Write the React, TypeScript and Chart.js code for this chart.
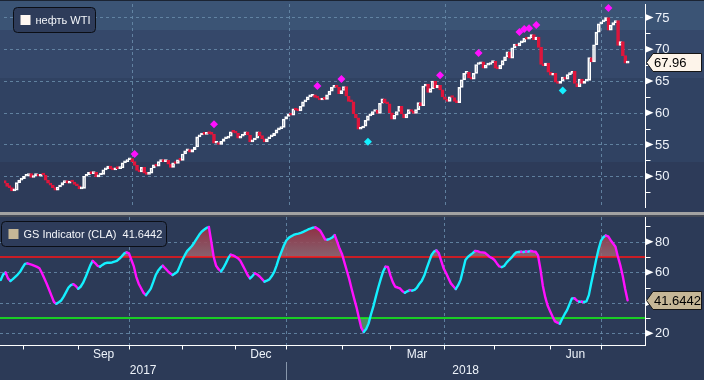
import React, { useEffect, useRef } from 'react';
import { Chart, registerables } from 'chart.js';

Chart.register(...registerables);

// ---------------- data ----------------
const firstOpen = 49.3;
const closes = [
  48.9, 48.4, 48.2, 47.7, 47.8, 49.0, 49.4, 49.6, 50.0, 50.1,
  50.4, 49.8, 50.1, 50.2, 50.0, 50.3, 50.2, 49.4, 48.9, 48.6,
  48.2, 47.8, 48.3, 48.6, 49.0, 49.3, 48.9, 49.2, 49.1, 48.7,
  48.5, 48.0, 48.1, 50.0, 50.2, 50.6, 50.4, 50.6, 49.9, 50.2,
  50.3, 51.0, 51.2, 51.6, 51.2, 51.0, 51.3, 51.2, 51.3, 52.1,
  52.3, 52.6, 52.8, 52.3, 51.7, 50.9, 50.7, 51.4, 50.5, 50.3,
  50.5, 51.3, 51.8, 51.6, 52.3, 52.4, 52.3, 52.5, 51.9, 51.4,
  52.1, 52.0, 52.6, 52.5, 53.5, 54.0, 54.2, 53.8, 54.2, 54.6,
  56.2, 56.5, 56.7, 56.6, 56.8, 56.7, 56.6, 55.2, 55.3, 55.0,
  55.5, 55.9, 56.0, 56.3, 57.0, 56.9, 56.8, 56.0, 56.3, 56.5,
  57.0, 56.5, 55.4, 55.7, 56.0, 57.0, 56.4, 55.9, 55.4, 55.9,
  56.2, 56.4, 56.8, 57.3, 57.5, 57.7, 59.0, 59.4, 59.8, 59.6,
  60.6, 60.4, 60.3, 61.0, 61.7, 62.0, 62.5, 62.6, 62.8, 62.4,
  62.3, 62.0, 62.2, 62.1, 62.8, 63.4, 64.0, 64.2, 64.0, 63.0,
  63.5, 64.1, 62.6, 61.8, 61.7, 59.8, 59.2, 57.4, 57.6, 57.9,
  58.8, 59.5, 59.7, 60.2, 60.4, 59.9, 61.5, 62.2, 61.6, 61.4,
  60.0, 59.0, 59.6, 60.2, 61.0, 59.8, 59.2, 59.8, 60.5, 60.2,
  59.9, 60.5, 61.6, 61.1, 64.2, 64.5, 63.2, 63.8, 65.0, 63.9,
  64.3, 63.6, 62.5, 62.1, 61.8, 62.5, 62.4, 61.8, 61.6, 64.0,
  65.2, 66.2, 66.4, 65.5, 65.3, 66.2, 67.6, 67.7, 68.0, 67.0,
  67.5, 67.6, 67.9, 68.1, 67.0, 66.9, 67.5, 68.2, 68.8, 69.6,
  68.6, 70.2, 70.8, 70.5, 71.0, 71.1, 71.7, 71.6, 71.8, 72.3,
  71.5, 71.9, 70.3, 67.6, 67.4, 67.8, 66.4, 65.9, 66.2, 64.8,
  64.6, 65.0, 65.6, 65.3, 66.0, 66.2, 66.5, 64.6, 64.1, 65.3,
  64.6, 65.0, 65.1, 68.7, 68.0, 70.7, 72.7, 74.0, 74.3, 74.5,
  75.0, 73.0, 73.8, 74.2, 74.5, 70.6, 71.2, 69.0, 67.8, 67.96,
];

const gsIndicator = [
  54.9, 58.5, 59.8, 56.0, 54.3, 55.5, 57.0, 58.5, 60.3, 63.0,
  65.5, 65.8, 65.3, 64.8, 64.2, 63.5, 62.6, 59.5, 56.0, 52.5,
  48.5, 44.5, 40.5, 39.3, 40.3, 41.5, 44.0, 47.0, 50.0, 51.6,
  52.2, 51.0, 49.2, 50.5, 53.0, 56.5, 60.5, 64.5, 67.4, 66.0,
  64.2, 63.6, 64.8, 65.8, 66.2, 66.2, 66.4, 67.0, 67.5, 68.8,
  70.4, 72.3, 73.0, 72.3, 68.0, 63.8, 57.0, 52.5, 49.5, 46.5,
  45.0, 47.0, 49.3, 53.5, 58.0, 61.0, 63.0, 64.3, 62.5, 60.8,
  59.3, 58.2, 59.2, 60.3, 64.0, 67.8, 71.0, 73.8, 75.5, 77.2,
  79.5, 82.0, 84.5, 86.5, 87.8, 89.0, 89.6, 80.0, 70.0, 64.2,
  62.0, 60.5, 62.8, 65.8, 69.2, 71.5, 71.0, 70.2, 69.2, 67.5,
  64.5, 61.5, 58.2, 56.0, 57.5, 59.3, 58.5, 57.2, 55.5, 53.8,
  54.5, 55.3, 57.5, 60.2, 64.5, 69.5, 73.5, 77.5, 80.8, 82.5,
  83.5, 84.4, 85.0, 85.3, 85.8, 86.5, 87.2, 88.0, 88.6, 89.2,
  89.4, 88.5, 87.2, 84.5, 81.5, 81.3, 81.9, 82.8, 84.3, 80.0,
  75.5, 72.0, 66.5, 61.0, 55.5, 49.0, 42.9, 37.0, 30.0, 23.5,
  20.8, 22.8, 26.5, 32.5, 37.8, 44.0, 50.0, 55.5, 60.5, 63.6,
  63.4, 58.0, 53.5, 50.5, 50.0, 49.4, 47.5, 46.5, 47.5, 48.3,
  48.0, 48.5, 50.0, 52.5, 54.5, 57.8, 62.5, 67.0, 71.3, 73.5,
  74.3, 72.5, 67.5, 62.5, 59.5, 56.0, 52.7, 50.8, 49.0, 51.5,
  55.0, 61.5, 68.0, 70.0, 71.3, 72.5, 73.9, 73.8, 73.2, 73.0,
  72.8, 71.5, 70.0, 69.3, 68.0, 65.8, 63.8, 63.4, 64.1, 66.3,
  68.0, 69.5, 71.5, 73.0, 73.3, 73.4, 73.3, 73.6, 73.5, 73.9,
  73.6, 73.4, 71.0, 62.0, 51.0, 43.5, 38.0, 34.5, 31.0, 27.8,
  27.0, 26.3, 29.5, 32.5, 35.2, 39.0, 42.9, 43.0, 41.5, 40.7,
  40.7, 40.5, 40.9, 45.0, 53.0, 60.3, 68.0, 75.0, 80.5, 83.0,
  84.0, 83.5, 81.0, 78.8, 76.7, 70.2, 64.5, 57.5, 49.0, 41.6442,
];

const sellSignalIdx = [54, 87, 130, 140, 181, 197, 214, 216, 218, 221, 251];
const sellSignalVal = [53.5, 58.2, 64.2, 65.3, 65.9, 69.4, 72.7, 73.2, 73.3, 73.8, 76.5];
const buySignalIdx = [151, 232];
const buySignalVal = [55.45, 63.5];

const priceTicks = [50, 55, 60, 65, 70, 75];
const priceMinorTicks = [47.5, 52.5, 57.5, 62.5, 67.5, 72.5];
const gsTicks = [20, 40, 60, 80];
const gsMinorTicks = [30, 50, 70, 90];
const gsUpper = 70;
const gsLower = 30;
const monthLabels = ['Sep', 'Dec', 'Mar', 'Jun'];
const yearLabels = ['2017', '2018'];
const priceLegend = 'нефть WTI';
const gsLegend = 'GS Indicator (CLA)';

// ---------------- styles / ranges ----------------
const MONTH_NAMES = ['Jan', 'Feb', 'Mar', 'Apr', 'May', 'Jun', 'Jul', 'Aug', 'Sep', 'Oct', 'Nov', 'Dec'];
const X_MIN = -0.3;
const X_MAX = 266.2;
const PRICE_MIN = 45;
const PRICE_MAX = 77.12;
const GS_MIN = 12.34;
const GS_MAX = 96.18;
const FONT = '"Liberation Sans", Arial, sans-serif';
const BG = '#2c3a57';
const UP = '#ffffff';
const DOWN = '#e0163c';
const CYAN = '#14f0ff';
const MAGENTA = '#ff10ff';
const GRID = 'rgba(105,140,170,0.85)';
const LABEL = '#eef3fa';

// weekday calendar starting 19 Jul 2017 (one slot per trading day)
function weekdayDates(n: number): Date[] {
  const out: Date[] = [];
  let t = Date.UTC(2017, 6, 19);
  while (out.length < n) {
    const d = new Date(t);
    const wd = d.getUTCDay();
    if (wd !== 0 && wd !== 6) out.push(d);
    t += 86400000;
  }
  return out;
}
const dates = weekdayDates(Math.ceil(X_MAX) + 25);
const monthStarts: { idx: number; month: number; year: number }[] = [];
for (let k = 1; k < dates.length; k++) {
  if (dates[k].getUTCMonth() !== dates[k - 1].getUTCMonth()) {
    monthStarts.push({ idx: k, month: dates[k].getUTCMonth(), year: dates[k].getUTCFullYear() });
  }
}
const quarterStarts = monthStarts.filter((m) => m.month % 3 === 0 && m.idx <= X_MAX).map((m) => m.idx);

// ---------------- drawing helpers ----------------
function drawGrid(chart: any, values: number[]) {
  const { ctx, chartArea, scales } = chart;
  ctx.save();
  ctx.strokeStyle = GRID;
  ctx.lineWidth = 1;
  ctx.setLineDash([3, 3]);
  values.forEach((v) => {
    const py = Math.round(scales.y.getPixelForValue(v)) + 0.5;
    ctx.beginPath();
    ctx.moveTo(chartArea.left, py);
    ctx.lineTo(chartArea.right, py);
    ctx.stroke();
  });
  quarterStarts.forEach((i) => {
    const px = Math.round(scales.x.getPixelForValue(i)) + 0.5;
    ctx.beginPath();
    ctx.moveTo(px, chartArea.top);
    ctx.lineTo(px, chartArea.bottom);
    ctx.stroke();
  });
  ctx.restore();
}

function drawRightAxis(chart: any, majors: number[], minors: number[]) {
  const { ctx, chartArea, scales } = chart;
  const ax = chartArea.right + 0.5;
  ctx.save();
  ctx.strokeStyle = '#ffffff';
  ctx.lineWidth = 1;
  ctx.beginPath();
  ctx.moveTo(ax, chartArea.top);
  ctx.lineTo(ax, chartArea.bottom);
  ctx.stroke();
  minors.forEach((v) => {
    const py = Math.round(scales.y.getPixelForValue(v)) + 0.5;
    ctx.beginPath();
    ctx.moveTo(ax, py);
    ctx.lineTo(ax + 5, py);
    ctx.stroke();
  });
  ctx.fillStyle = '#ffffff';
  majors.forEach((v) => {
    const py = scales.y.getPixelForValue(v);
    ctx.beginPath();
    ctx.moveTo(ax, py - 3.5);
    ctx.lineTo(ax + 8, py);
    ctx.lineTo(ax, py + 3.5);
    ctx.closePath();
    ctx.fill();
  });
  ctx.font = `13px ${FONT}`;
  ctx.textAlign = 'left';
  ctx.textBaseline = 'middle';
  ctx.fillStyle = LABEL;
  majors.forEach((v) => {
    ctx.fillText(String(v), ax + 9.5, scales.y.getPixelForValue(v) + 0.5);
  });
  ctx.restore();
}

function drawValueBox(chart: any, value: number, text: string, fill: string) {
  const { ctx, chartArea, scales } = chart;
  const py = Math.round(scales.y.getPixelForValue(value)) + 0.5;
  const x0 = chartArea.right + 1.5;
  const x1 = x0 + 6.5;
  const x2 = 701.5;
  const h = 9;
  ctx.save();
  ctx.beginPath();
  ctx.moveTo(x0, py);
  ctx.lineTo(x1, py - h);
  ctx.lineTo(x2, py - h);
  ctx.lineTo(x2, py + h);
  ctx.lineTo(x1, py + h);
  ctx.closePath();
  ctx.fillStyle = fill;
  ctx.fill();
  ctx.strokeStyle = '#151515';
  ctx.lineWidth = 1;
  ctx.stroke();
  ctx.fillStyle = '#000000';
  ctx.font = `13px ${FONT}`;
  ctx.textAlign = 'left';
  ctx.textBaseline = 'middle';
  ctx.fillText(text, x1 + 1, py + 0.5);
  ctx.restore();
}

function drawLegend(ctx: CanvasRenderingContext2D, x: number, y: number, w: number, h: number, swatch: string, text: string) {
  ctx.save();
  ctx.beginPath();
  if ((ctx as any).roundRect) (ctx as any).roundRect(x, y, w, h, 4);
  else ctx.rect(x, y, w, h);
  ctx.fillStyle = '#2e3c5a';
  ctx.fill();
  ctx.strokeStyle = '#0b0e15';
  ctx.lineWidth = 1;
  ctx.stroke();
  ctx.fillStyle = swatch;
  ctx.fillRect(x + 7, y + (h - 10) / 2, 10, 10);
  ctx.fillStyle = '#f4f6fa';
  ctx.font = `11px ${FONT}`;
  ctx.textAlign = 'left';
  ctx.textBaseline = 'middle';
  ctx.fillText(text, x + 22, y + h / 2 + 0.5);
  ctx.restore();
}

// ---------------- plugins ----------------
const topPlugin = {
  id: 'topPanel',
  beforeDraw(chart: any) {
    const { ctx, width, height } = chart;
    const bands: [number, number, string][] = [
      [0, 30, '#3b5475'],
      [30, 78, '#35486a'],
      [78, 162, '#304262'],
      [162, height, '#2d3b59'],
    ];
    ctx.save();
    bands.forEach(([a, b, c]) => {
      ctx.fillStyle = c;
      ctx.fillRect(0, a, width, b - a);
    });
    ctx.fillStyle = '#1b2433';
    ctx.fillRect(0, 0, width, 1);
    ctx.restore();
  },
  beforeDatasetsDraw(chart: any) {
    drawGrid(chart, priceTicks);
  },
  afterDraw(chart: any) {
    drawRightAxis(chart, priceTicks, priceMinorTicks);
    const last = closes[closes.length - 1];
    drawValueBox(chart, last, last.toFixed(2), '#fdf4ea');
    drawLegend(chart.ctx, 13.5, 7.5, 82, 25, '#fff8f2', priceLegend);
  },
};

const bottomPlugin = {
  id: 'bottomPanel',
  beforeDraw(chart: any) {
    const { ctx, width, height } = chart;
    ctx.save();
    ctx.fillStyle = BG;
    ctx.fillRect(0, 0, width, height);
    ctx.restore();
  },
  beforeDatasetsDraw(chart: any) {
    drawGrid(chart, gsTicks);
  },
  afterDraw(chart: any) {
    const { ctx, chartArea, scales, height } = chart;
    drawRightAxis(chart, gsTicks, gsMinorTicks);
    const last = gsIndicator[gsIndicator.length - 1];
    drawValueBox(chart, last, last.toFixed(4), '#c6b797');
    drawLegend(ctx, 1.5, 4.5, 165, 25, '#c6b797', `${gsLegend}  ${last.toFixed(4)}`);

    // time axis
    const x = scales.x;
    const by = chartArea.bottom + 0.5;
    ctx.save();
    ctx.strokeStyle = '#ffffff';
    ctx.lineWidth = 1;
    ctx.beginPath();
    ctx.moveTo(0, by);
    ctx.lineTo(chartArea.right + 1, by);
    ctx.stroke();
    const visible = monthStarts.filter((m) => m.idx <= X_MAX);
    visible.forEach((m) => {
      const px = Math.round(x.getPixelForValue(m.idx)) + 0.5;
      ctx.beginPath();
      ctx.moveTo(px, by);
      ctx.lineTo(px, by + 4);
      ctx.stroke();
    });
    ctx.fillStyle = LABEL;
    ctx.font = `12px ${FONT}`;
    ctx.textAlign = 'center';
    ctx.textBaseline = 'middle';
    monthStarts.forEach((m, j) => {
      const name = MONTH_NAMES[m.month];
      if (!monthLabels.includes(name) || j + 1 >= monthStarts.length) return;
      const c = (x.getPixelForValue(m.idx) + x.getPixelForValue(monthStarts[j + 1].idx)) / 2;
      ctx.fillText(name, c, chartArea.bottom + 9.5);
    });
    const jan = monthStarts.find((m) => m.month === 0);
    if (jan) {
      const p = x.getPixelForValue(jan.idx);
      ctx.fillText(yearLabels[0], (chartArea.left + p) / 2, chartArea.bottom + 26);
      ctx.fillText(yearLabels[1], (p + chartArea.right) / 2, chartArea.bottom + 26);
      ctx.strokeStyle = '#8796ab';
      ctx.beginPath();
      ctx.moveTo(Math.round(p) + 0.5, chartArea.bottom + 17);
      ctx.lineTo(Math.round(p) + 0.5, height);
      ctx.stroke();
    }
    ctx.restore();
  },
};

// ---------------- configs ----------------
function topConfig(): any {
  const candles = closes.map((c, i) => ({ x: i, y: [i === 0 ? firstOpen : closes[i - 1], c] }));
  const isUp = closes.map((c, i) => c >= (i === 0 ? firstOpen : closes[i - 1]));
  return {
    type: 'bar',
    data: {
      datasets: [
        {
          type: 'line',
          data: sellSignalIdx.map((x, k) => ({ x, y: sellSignalVal[k] })),
          showLine: false,
          pointStyle: 'rectRot',
          pointRadius: 4,
          pointHoverRadius: 4,
          pointBackgroundColor: MAGENTA,
          pointBorderColor: MAGENTA,
          pointBorderWidth: 0,
          clip: false,
          order: 0,
        },
        {
          type: 'line',
          data: buySignalIdx.map((x, k) => ({ x, y: buySignalVal[k] })),
          showLine: false,
          pointStyle: 'rectRot',
          pointRadius: 4,
          pointHoverRadius: 4,
          pointBackgroundColor: CYAN,
          pointBorderColor: CYAN,
          pointBorderWidth: 0,
          order: 0,
        },
        {
          type: 'bar',
          data: candles,
          backgroundColor: isUp.map((u) => (u ? 'rgba(0,0,0,0)' : DOWN)),
          borderColor: isUp.map((u) => (u ? UP : DOWN)),
          borderWidth: 1,
          borderSkipped: false,
          barThickness: 3,
          minBarLength: 2,
          order: 2,
        },
      ],
    },
    options: {
      animation: false,
      responsive: false,
      devicePixelRatio: 1,
      events: [],
      layout: { padding: { left: 0, top: 0, bottom: 0, right: 59 } },
      plugins: { legend: { display: false }, tooltip: { enabled: false } },
      scales: {
        x: { type: 'linear', min: X_MIN, max: X_MAX, display: false, offset: false },
        y: { type: 'linear', min: PRICE_MIN, max: PRICE_MAX, display: false },
      },
    },
    plugins: [topPlugin],
  };
}

function botConfig(): any {
  const pts = gsIndicator.map((v, i) => ({ x: i, y: v }));
  const hLine = (v: number) => [{ x: X_MIN, y: v }, { x: X_MAX, y: v }];
  return {
    type: 'line',
    data: {
      datasets: [
        {
          data: pts,
          borderWidth: 2.4,
          pointRadius: 0,
          tension: 0,
          fill: false,
          borderCapStyle: 'round',
          borderJoinStyle: 'round',
          borderColor: CYAN,
          segment: {
            borderColor: (c: any) => (c.p1.parsed.y >= c.p0.parsed.y ? CYAN : MAGENTA),
          },
          order: 0,
        },
        { data: hLine(gsUpper), borderColor: '#ff1414', borderWidth: 1.5, pointRadius: 0, fill: false, order: 1 },
        { data: hLine(gsLower), borderColor: '#14ff14', borderWidth: 1.5, pointRadius: 0, fill: false, order: 1 },
        {
          data: pts,
          borderWidth: 0,
          pointRadius: 0,
          tension: 0,
          backgroundColor: (context: any) => {
            const chart = context.chart;
            const { ctx, chartArea, scales } = chart;
            if (!chartArea || !scales.y) return 'rgba(150,70,85,0.8)';
            const g = ctx.createLinearGradient(0, scales.y.getPixelForValue(92), 0, scales.y.getPixelForValue(gsUpper));
            g.addColorStop(0, 'rgba(150,40,60,0.95)');
            g.addColorStop(1, 'rgba(150,105,115,0.85)');
            return g;
          },
          fill: { target: { value: gsUpper }, below: 'rgba(0,0,0,0)' },
          order: 3,
        },
        {
          data: pts,
          borderWidth: 0,
          pointRadius: 0,
          tension: 0,
          backgroundColor: 'rgba(85,150,100,0.85)',
          fill: { target: { value: gsLower }, above: 'rgba(0,0,0,0)', below: 'rgba(85,150,100,0.85)' },
          order: 3,
        },
      ],
    },
    options: {
      animation: false,
      responsive: false,
      devicePixelRatio: 1,
      events: [],
      layout: { padding: { left: 0, top: 0, bottom: 35, right: 59 } },
      plugins: { legend: { display: false }, tooltip: { enabled: false } },
      scales: {
        x: { type: 'linear', min: X_MIN, max: X_MAX, display: false },
        y: { type: 'linear', min: GS_MIN, max: GS_MAX, display: false },
      },
    },
    plugins: [bottomPlugin],
  };
}

export default function App() {
  const topRef = useRef<HTMLCanvasElement>(null);
  const botRef = useRef<HTMLCanvasElement>(null);
  useEffect(() => {
    const top = new Chart(topRef.current as HTMLCanvasElement, topConfig());
    const bot = new Chart(botRef.current as HTMLCanvasElement, botConfig());
    return () => {
      top.destroy();
      bot.destroy();
    };
  }, []);
  return (
    <div style={{ position: 'fixed', left: 0, top: 0, width: 704, height: 380, background: BG, overflow: 'hidden' }}>
      <canvas ref={topRef} width={704} height={212} style={{ display: 'block', width: 704, height: 212 }} />
      <div style={{ height: 5, background: 'linear-gradient(#a2a2a2 0 3px, #434956 3px 5px)' }} />
      <canvas ref={botRef} width={704} height={163} style={{ display: 'block', width: 704, height: 163 }} />
    </div>
  );
}
